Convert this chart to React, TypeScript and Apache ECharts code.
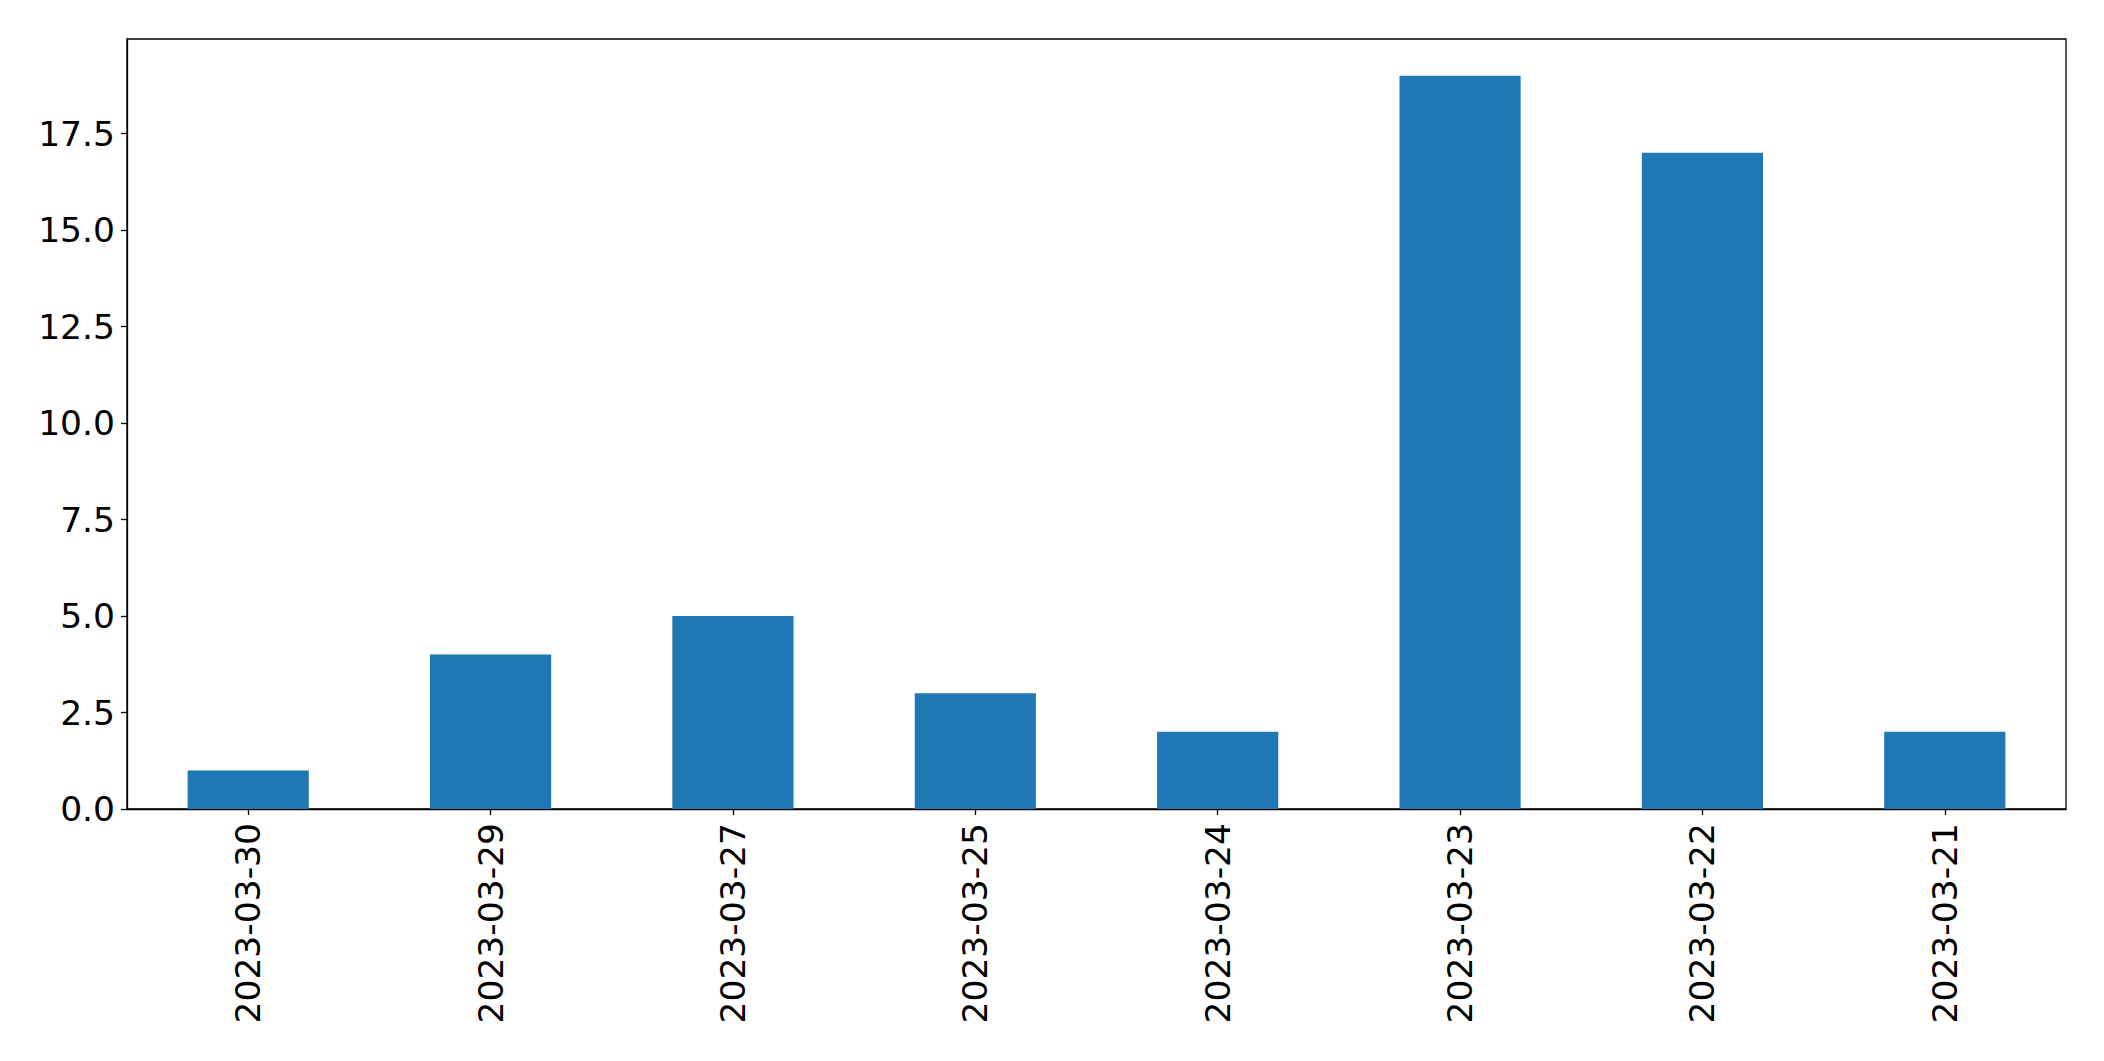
import React, { useEffect, useRef } from "react";
import * as echarts from "echarts";

const categories = [
  "2023-03-30",
  "2023-03-29",
  "2023-03-27",
  "2023-03-25",
  "2023-03-24",
  "2023-03-23",
  "2023-03-22",
  "2023-03-21",
];
const counts = [1, 4, 5, 3, 2, 19, 17, 2];
const yTicks = [0, 2.5, 5, 7.5, 10, 12.5, 15, 17.5];

export default function App() {
  const ref = useRef<HTMLDivElement>(null);
  useEffect(() => {
    if (!ref.current) return;
    const chart = echarts.init(ref.current, null, { renderer: "svg" });
    const font = "DejaVu Sans";
    chart.setOption({
      animation: false,
      backgroundColor: "#fff",
      grid: {
        left: 127,
        top: 39,
        right: 38,
        bottom: 252,
        show: true,
        borderColor: "#000",
        borderWidth: 1.3,
        backgroundColor: "transparent",
      },
      xAxis: {
        type: "category",
        data: categories,
        boundaryGap: true,
        axisLine: { show: true, lineStyle: { color: "#000", width: 1.3 } },
        axisTick: {
          show: true,
          alignWithLabel: true,
          length: 6,
          lineStyle: { color: "#000", width: 1.3 },
        },
        axisLabel: {
          rotate: 90,
          margin: 14,
          color: "#000",
          fontSize: 34.5,
          fontFamily: font,
          interval: 0,
        },
        splitLine: { show: false },
      },
      yAxis: {
        type: "value",
        min: 0,
        max: 19.95,
        axisLine: { show: true, lineStyle: { color: "#000", width: 1.3 } },
        axisTick: {
          show: true,
          length: 6,
          customValues: yTicks,
          lineStyle: { color: "#000", width: 1.3 },
        },
        axisLabel: {
          margin: 12,
          color: "#000",
          fontSize: 34.5,
          fontFamily: font,
          customValues: yTicks,
          formatter: (v: number) => v.toFixed(1),
        },
        splitLine: { show: false },
      },
      series: [
        {
          type: "bar",
          data: counts,
          barWidth: "50%",
          itemStyle: { color: "#1f77b4" },
        },
      ],
    });
    return () => chart.dispose();
  }, []);
  return (
    <div
      ref={ref}
      style={{ position: "fixed", left: 0, top: 0, width: 2104, height: 1061 }}
    />
  );
}
